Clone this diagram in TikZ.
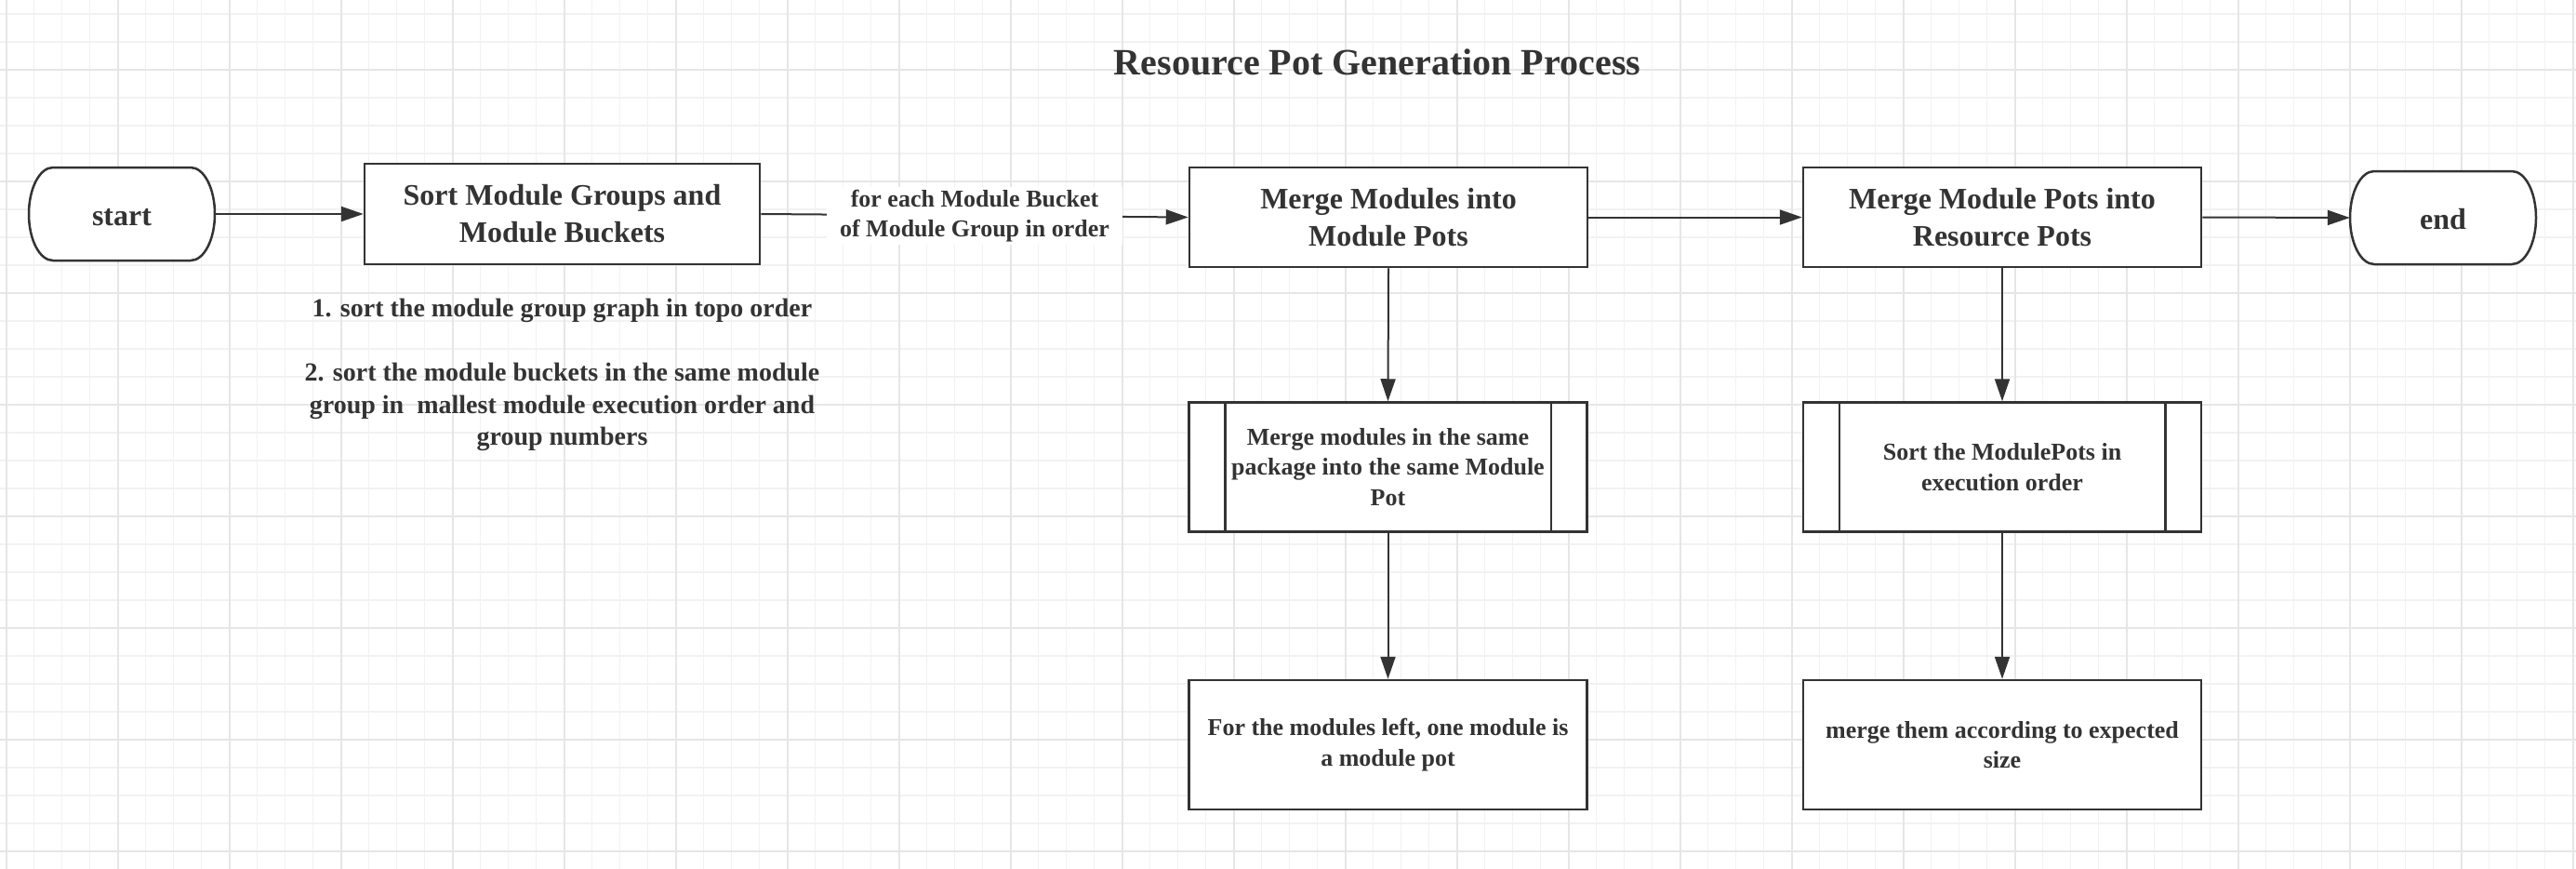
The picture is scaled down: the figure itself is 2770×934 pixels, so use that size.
\documentclass[tikz,border=0pt]{standalone}
\usepackage{fontspec}
\setmainfont{Liberation Serif}
\usetikzlibrary{arrows.meta,positioning}

\definecolor{ink}{HTML}{333333}
\definecolor{gridminor}{HTML}{F2F2F2}
\definecolor{gridmajor}{HTML}{E6E6E6}

\tikzset{
  stepnode/.style={draw=ink, line width=2.5pt, fill=white, text=ink, align=center,
    minimum width=428pt, minimum height=107pt, font=\bfseries\fontsize{32}{40}\selectfont},
  subnode/.style={stepnode, minimum height=139pt, font=\bfseries\fontsize{26}{32.5}\selectfont},
  termtext/.style={text=ink, minimum width=200pt, minimum height=101pt, text height=24pt, text depth=0pt,
    font=\bfseries\fontsize{32}{40}\selectfont},
  termline/.style={draw=ink, line width=2.5pt, fill=white},
  link/.style={draw=ink, line width=2pt, -{Triangle[length=24pt,width=16pt]}},
  edgelabel/.style={fill=white, text=ink, align=center, inner xsep=14pt, inner ysep=3pt,
    font=\bfseries\fontsize{26}{32}\selectfont},
  note/.style={text=ink, align=center, inner sep=0pt, font=\bfseries\fontsize{28}{34.5}\selectfont},
}

\begin{document}
\begin{tikzpicture}[x=1pt,y=1pt]
    \path[use as bounding box, fill=white] (0,0) rectangle (2770,-934);

    % grid paper
    \foreach \i in {0,...,92}
        \draw[gridminor, line width=1.3pt] ({6.7+30*\i},0) -- ({6.7+30*\i},-934);
    \foreach \i in {0,...,30}
        \draw[gridminor, line width=1.3pt] (0,{-15-30*\i}) -- (2770,{-15-30*\i});
    \foreach \i in {0,...,23}
        \draw[gridmajor, line width=1.6pt] ({6.7+120*\i},0) -- ({6.7+120*\i},-934);
    \foreach \i in {0,...,7}
        \draw[gridmajor, line width=1.6pt] (0,{-75-120*\i}) -- (2770,{-75-120*\i});

    % title
    \node[text=ink, font=\bfseries\fontsize{40}{48}\selectfont, anchor=base] (title) at (1481,-81)
        {Resource Pot Generation Process};

    % terminators
    \foreach \n/\x/\y in {start/131/230, end/2627/234} {
        \draw[termline] (\x,-\y) ++(-74,50) -- ++(148,0)
            arc[start angle=90, end angle=-90, x radius=26, y radius=50] -- ++(-148,0)
            arc[start angle=270, end angle=90, x radius=26, y radius=50] -- cycle;
        \node[termtext] (\n) at (\x,-\y) {\n};
    }

    % main steps
    \node[stepnode, minimum width=425pt, minimum height=108pt] (sort) at (604.5,-230)
        {Sort Module Groups and\\Module Buckets};
    \node[stepnode] (merge) at (1493,-233.5) {Merge Modules into\\Module Pots};
    \node[stepnode] (pots) at (2153,-233.5) {Merge Module Pots into\\Resource Pots};

    % sub steps
    \node[subnode] (mergepkg) at (1492.5,-502)
        {Merge modules in the same\\package into the same Module\\Pot};
    \node[subnode] (sortpots) at (2153,-502) {Sort the ModulePots in\\execution order};
    \node[subnode] (leftover) at (1492.5,-800.5) {For the modules left, one module is\\a module pot};
    \node[subnode] (mergesize) at (2153,-800.5) {merge them according to expected\\size};

    % side bars of the process boxes
    \foreach \s in {mergepkg,sortpots} {
        \draw[draw=ink, line width=2.5pt] ([xshift=40pt]\s.north west) -- ([xshift=40pt]\s.south west);
        \draw[draw=ink, line width=2.5pt] ([xshift=-40pt]\s.north east) -- ([xshift=-40pt]\s.south east);
    }

    % note under the sort step
    \node[note, anchor=north] (sortnote) at (604.5,-321)
        {1. sort the module group graph in topo order\\[34.5pt]
         2. sort the module buckets in the same module\\
         group in\ \ mallest module execution order and\\
         group numbers};

    % connectors
    \draw[link] (start.east) -- (sort.west);
    \draw[link] (sort.east) -- node[edgelabel] (bucketlbl)
        {for each Module Bucket\\of Module Group in order} (merge.west);
    \draw[link] (merge.east) -- (pots.west);
    \draw[link] (pots.east) -- (end.west);
    \draw[link] (merge.south) -- (mergepkg.north);
    \draw[link] (mergepkg.south) -- (leftover.north);
    \draw[link] (pots.south) -- (sortpots.north);
    \draw[link] (sortpots.south) -- (mergesize.north);
\end{tikzpicture}
\end{document}
